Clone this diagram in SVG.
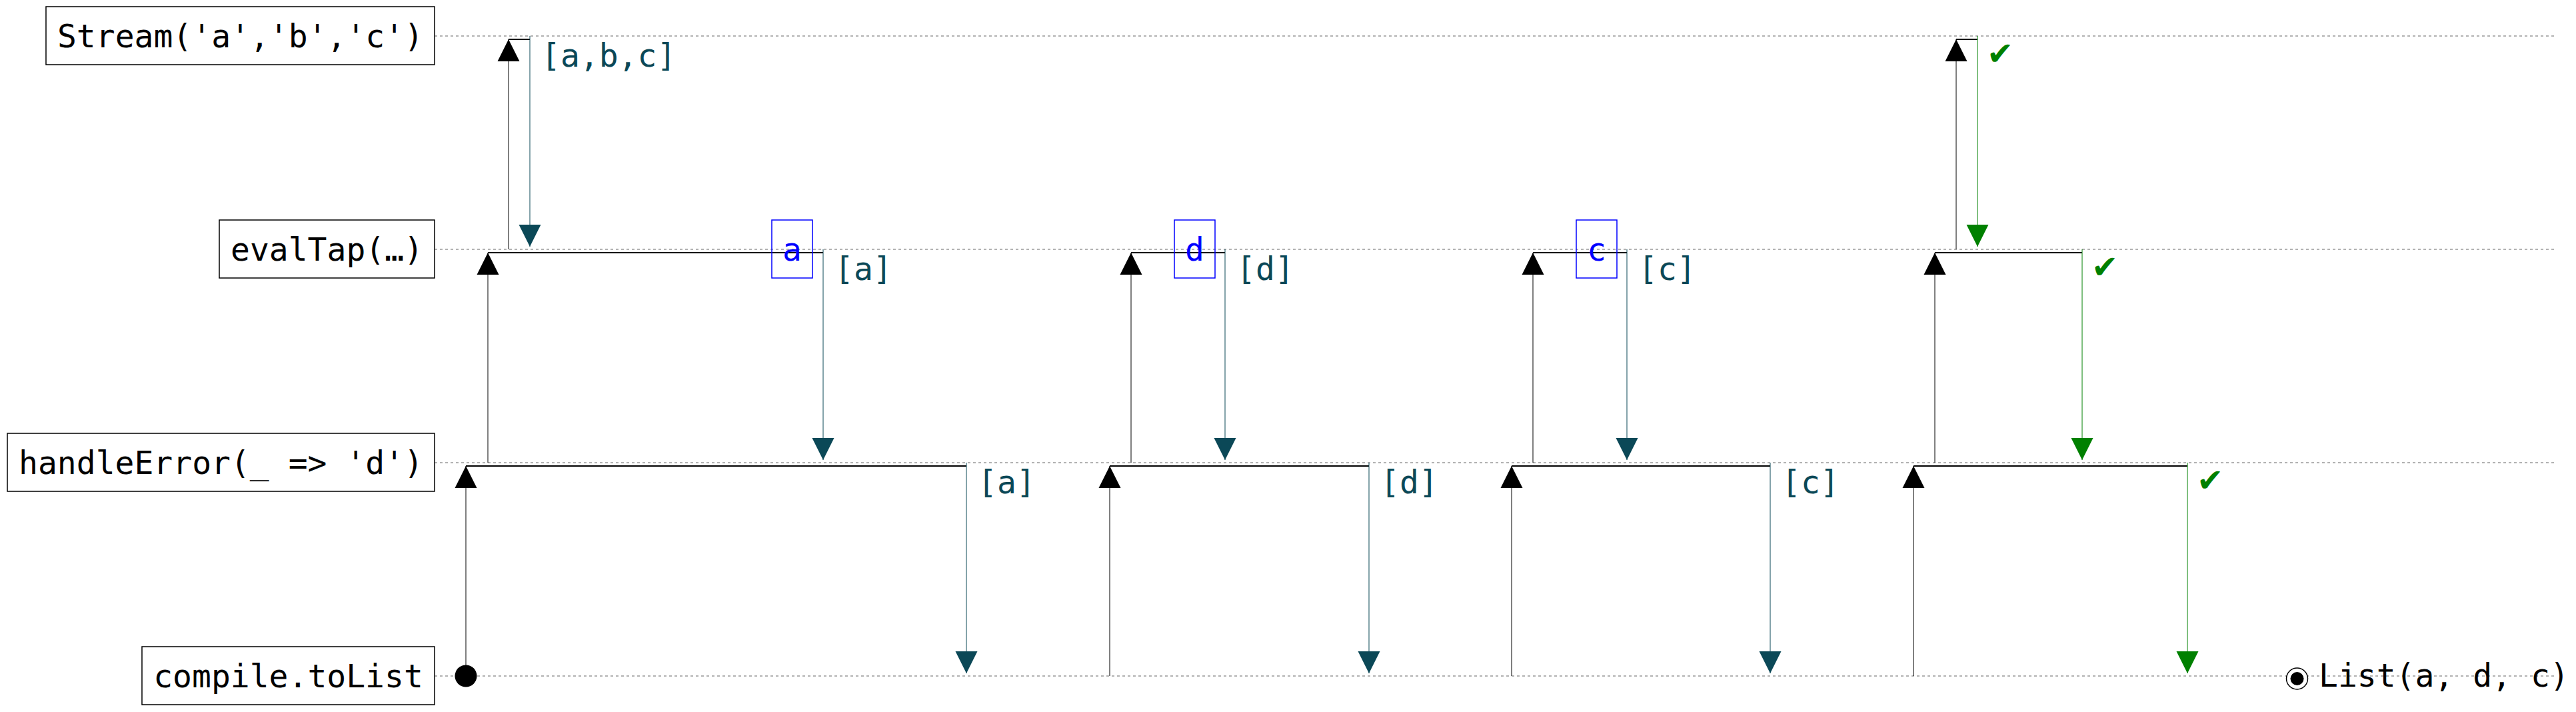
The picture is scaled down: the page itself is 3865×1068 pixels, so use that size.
<svg xmlns="http://www.w3.org/2000/svg" width="3865" height="1068" viewBox="0 0 3865 1068">
<defs>
<style>
.node rect{fill:#fff;stroke:#000;stroke-width:1.5}
.node text{font-family:"DejaVu Sans Mono","Liberation Mono",monospace;font-size:48px;fill:#000;text-anchor:middle}
.life{stroke:#999;stroke-width:1.5;stroke-dasharray:4 4;fill:none}
.up{stroke:#000;stroke-width:1;fill:none;marker-end:url(#ab)}
.hz{stroke:#000;stroke-width:2;fill:none}
.dn{stroke:#0b4857;stroke-width:1;fill:none;marker-end:url(#at)}
.ok{stroke:#008000;stroke-width:1;fill:none;marker-end:url(#ag)}
.lbl{font-family:"DejaVu Sans Mono","Liberation Mono",monospace;font-size:48px;fill:#0b4857}
.chk{font-family:"DejaVu Sans","Noto Sans",sans-serif;font-size:48px;fill:#008000}
.val rect{fill:none;stroke:#0000ff;stroke-width:1.5}
.val text{font-family:"DejaVu Sans Mono","Liberation Mono",monospace;font-size:48px;fill:#0000ff;text-anchor:middle}
.res{font-family:"DejaVu Sans Mono","Liberation Mono",monospace;font-size:48px;fill:#000}
</style>
<marker id="ab" viewBox="0 -17 34 34" refX="33" refY="0" markerWidth="34" markerHeight="34" markerUnits="userSpaceOnUse" orient="auto"><path d="M0,-16.5L33,0L0,16.5Z" fill="#000"/></marker>
<marker id="at" viewBox="0 -17 34 34" refX="33" refY="0" markerWidth="34" markerHeight="34" markerUnits="userSpaceOnUse" orient="auto"><path d="M0,-16.5L33,0L0,16.5Z" fill="#0b4857"/></marker>
<marker id="ag" viewBox="0 -17 34 34" refX="33" refY="0" markerWidth="34" markerHeight="34" markerUnits="userSpaceOnUse" orient="auto"><path d="M0,-16.5L33,0L0,16.5Z" fill="#008000"/></marker>
</defs>
<rect width="3865" height="1068" fill="#fff"/>
<g id="lifelines">
<line class="life" x1="652" y1="54" x2="3832" y2="54"/>
<line class="life" x1="652" y1="374" x2="3832" y2="374"/>
<line class="life" x1="652" y1="694" x2="3832" y2="694"/>
<line class="life" x1="652" y1="1014" x2="3832" y2="1014"/>
</g>
<g id="node-stream" class="node"><rect x="69" y="10" width="583" height="87"/><text x="360.5" y="71">Stream('a','b','c')</text></g>
<g id="node-evaltap" class="node"><rect x="329" y="330" width="323" height="87"/><text x="490.5" y="391">evalTap(…)</text></g>
<g id="node-handleerror" class="node"><rect x="11" y="650" width="641" height="87"/><text x="331.5" y="711">handleError(_ =&gt; 'd')</text></g>
<g id="node-compile" class="node"><rect x="213" y="970" width="439" height="87"/><text x="432.5" y="1031">compile.toList</text></g>
<g id="connectors">
<circle cx="699" cy="1014" r="16.5" fill="#000"/>
<!-- element a -->
<line class="up" x1="699" y1="1014" x2="699" y2="699"/>
<line class="hz" x1="699" y1="699" x2="1450" y2="699"/>
<line class="up" x1="732" y1="694" x2="732" y2="379"/>
<line class="hz" x1="732" y1="379" x2="1235" y2="379"/>
<line class="up" x1="763" y1="374" x2="763" y2="59"/>
<line class="hz" x1="763" y1="59" x2="795" y2="59"/>
<line class="dn" x1="795" y1="54" x2="795" y2="370"/>
<text class="lbl" x="812" y="100">[a,b,c]</text>
<line class="dn" x1="1235" y1="374" x2="1235" y2="690"/>
<text class="lbl" x="1252" y="420">[a]</text>
<line class="dn" x1="1450" y1="694" x2="1450" y2="1010"/>
<text class="lbl" x="1467" y="740">[a]</text>
<!-- element d -->
<line class="up" x1="1665" y1="1014" x2="1665" y2="699"/>
<line class="hz" x1="1665" y1="699" x2="2054" y2="699"/>
<line class="up" x1="1697" y1="694" x2="1697" y2="379"/>
<line class="hz" x1="1697" y1="379" x2="1838" y2="379"/>
<line class="dn" x1="1838" y1="374" x2="1838" y2="690"/>
<text class="lbl" x="1855" y="420">[d]</text>
<line class="dn" x1="2054" y1="694" x2="2054" y2="1010"/>
<text class="lbl" x="2071" y="740">[d]</text>
<!-- element c -->
<line class="up" x1="2268" y1="1014" x2="2268" y2="699"/>
<line class="hz" x1="2268" y1="699" x2="2656" y2="699"/>
<line class="up" x1="2300" y1="694" x2="2300" y2="379"/>
<line class="hz" x1="2300" y1="379" x2="2441" y2="379"/>
<line class="dn" x1="2441" y1="374" x2="2441" y2="690"/>
<text class="lbl" x="2458" y="420">[c]</text>
<line class="dn" x1="2656" y1="694" x2="2656" y2="1010"/>
<text class="lbl" x="2673" y="740">[c]</text>
<!-- completion -->
<line class="up" x1="2871" y1="1014" x2="2871" y2="699"/>
<line class="hz" x1="2871" y1="699" x2="3282" y2="699"/>
<line class="up" x1="2903" y1="694" x2="2903" y2="379"/>
<line class="hz" x1="2903" y1="379" x2="3124" y2="379"/>
<line class="up" x1="2935" y1="374" x2="2935" y2="59"/>
<line class="hz" x1="2935" y1="59" x2="2967" y2="59"/>
<line class="ok" x1="2967" y1="54" x2="2967" y2="370"/>
<text class="chk" x="2981" y="97">✔</text>
<line class="ok" x1="3124" y1="374" x2="3124" y2="690"/>
<text class="chk" x="3138" y="417">✔</text>
<line class="ok" x1="3282" y1="694" x2="3282" y2="1010"/>
<text class="chk" x="3296" y="737">✔</text>
</g>
<g id="value-a" class="val"><rect x="1158" y="330" width="61" height="87"/><text x="1188.5" y="391">a</text></g>
<g id="value-d" class="val"><rect x="1762" y="330" width="61" height="87"/><text x="1792.5" y="391">d</text></g>
<g id="value-c" class="val"><rect x="2365" y="330" width="61" height="87"/><text x="2395.5" y="391">c</text></g>
<g id="result">
<circle cx="3446.5" cy="1018" r="16" fill="#fff" stroke="#000" stroke-width="1.5"/>
<circle cx="3446.5" cy="1018" r="10" fill="#000"/>
<text class="res" x="3479" y="1030">List(a, d, c)</text>
</g>
</svg>
